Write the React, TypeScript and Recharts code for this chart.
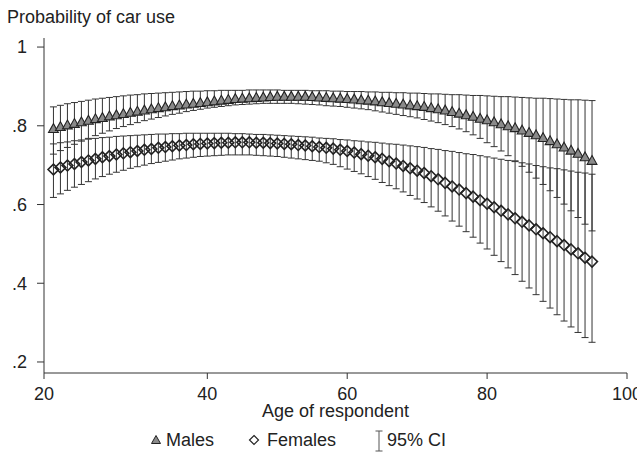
import { ScatterChart, Scatter, XAxis, YAxis, ErrorBar, Legend, Label } from 'recharts'

// age of respondent, one point per year
const ages = [
  18, 19, 20, 21, 22, 23, 24, 25, 26, 27, 28, 29, 30, 31, 32, 33, 34, 35, 36, 37,
  38, 39, 40, 41, 42, 43, 44, 45, 46, 47, 48, 49, 50, 51, 52, 53, 54, 55, 56, 57,
  58, 59, 60, 61, 62, 63, 64, 65, 66, 67, 68, 69, 70, 71, 72, 73, 74, 75, 76, 77,
  78, 79, 80, 81, 82, 83, 84, 85, 86, 87, 88, 89, 90, 91, 92, 93, 94, 95,
]

const maleProb = [
  0.793, 0.798, 0.802, 0.806, 0.81, 0.814, 0.818, 0.821, 0.825, 0.828,
  0.831, 0.834, 0.837, 0.84, 0.843, 0.846, 0.848, 0.851, 0.853, 0.855,
  0.857, 0.859, 0.861, 0.863, 0.865, 0.867, 0.869, 0.87, 0.871, 0.872,
  0.873, 0.874, 0.875, 0.875, 0.875, 0.875, 0.875, 0.874, 0.873, 0.872,
  0.871, 0.87, 0.869, 0.868, 0.866, 0.865, 0.863, 0.861, 0.859, 0.857,
  0.855, 0.853, 0.851, 0.849, 0.846, 0.843, 0.84, 0.836, 0.832, 0.828,
  0.824, 0.819, 0.815, 0.81, 0.805, 0.8, 0.795, 0.789, 0.783, 0.777,
  0.77, 0.762, 0.754, 0.746, 0.738, 0.73, 0.721, 0.712,
]
const maleLow = [
  0.728, 0.737, 0.745, 0.753, 0.761, 0.768, 0.775, 0.781, 0.787, 0.793,
  0.798, 0.803, 0.808, 0.813, 0.817, 0.821, 0.825, 0.829, 0.832, 0.836,
  0.839, 0.842, 0.845, 0.847, 0.849, 0.851, 0.853, 0.854, 0.855, 0.856,
  0.857, 0.857, 0.857, 0.857, 0.857, 0.856, 0.855, 0.854, 0.853, 0.851,
  0.85, 0.849, 0.847, 0.845, 0.843, 0.841, 0.838, 0.835, 0.832, 0.829,
  0.826, 0.823, 0.82, 0.816, 0.812, 0.808, 0.803, 0.798, 0.792, 0.785,
  0.777, 0.768, 0.757, 0.747, 0.736, 0.724, 0.711, 0.697, 0.682, 0.667,
  0.651, 0.635, 0.618, 0.601, 0.584, 0.567, 0.55, 0.533,
]
const maleHigh = [
  0.848, 0.852, 0.856, 0.859, 0.862, 0.865, 0.868, 0.87, 0.872, 0.874,
  0.876, 0.878, 0.879, 0.881, 0.882, 0.883, 0.884, 0.885, 0.886, 0.887,
  0.888, 0.888, 0.889, 0.889, 0.89, 0.89, 0.89, 0.89, 0.891, 0.891,
  0.891, 0.891, 0.891, 0.89, 0.89, 0.89, 0.89, 0.889, 0.889, 0.889,
  0.888, 0.888, 0.887, 0.887, 0.887, 0.886, 0.886, 0.885, 0.885, 0.884,
  0.884, 0.883, 0.883, 0.882, 0.881, 0.881, 0.88, 0.879, 0.879, 0.878,
  0.877, 0.877, 0.876, 0.875, 0.874, 0.874, 0.873, 0.872, 0.871, 0.87,
  0.87, 0.869, 0.868, 0.867, 0.866, 0.866, 0.865, 0.864,
]

const femaleProb = [
  0.689, 0.694, 0.699, 0.703, 0.708, 0.712, 0.716, 0.72, 0.723, 0.727,
  0.73, 0.733, 0.736, 0.739, 0.741, 0.744, 0.746, 0.748, 0.75, 0.751,
  0.753, 0.754, 0.755, 0.756, 0.757, 0.757, 0.758, 0.758, 0.758, 0.757,
  0.757, 0.756, 0.755, 0.754, 0.753, 0.751, 0.75, 0.748, 0.746, 0.744,
  0.742, 0.739, 0.736, 0.732, 0.728, 0.724, 0.72, 0.716, 0.71, 0.704,
  0.698, 0.692, 0.686, 0.68, 0.672, 0.664, 0.655, 0.646, 0.638, 0.629,
  0.62, 0.611, 0.602, 0.593, 0.584, 0.575, 0.565, 0.556, 0.547, 0.537,
  0.527, 0.517, 0.507, 0.497, 0.486, 0.476, 0.465, 0.455,
]
const femaleLow = [
  0.618, 0.627, 0.636, 0.644, 0.651, 0.658, 0.665, 0.671, 0.677, 0.682,
  0.687, 0.692, 0.696, 0.7, 0.704, 0.707, 0.71, 0.713, 0.716, 0.718,
  0.72, 0.722, 0.723, 0.724, 0.725, 0.726, 0.726, 0.726, 0.726, 0.725,
  0.724, 0.723, 0.722, 0.72, 0.718, 0.716, 0.714, 0.712, 0.71, 0.706,
  0.702, 0.696, 0.69, 0.684, 0.678, 0.671, 0.664, 0.656, 0.648, 0.64,
  0.632, 0.623, 0.614, 0.605, 0.594, 0.583, 0.571, 0.558, 0.545, 0.531,
  0.517, 0.502, 0.487, 0.471, 0.455, 0.439, 0.422, 0.405, 0.388, 0.371,
  0.354, 0.337, 0.32, 0.304, 0.289, 0.275, 0.262, 0.25,
]
const femaleHigh = [
  0.754, 0.757, 0.759, 0.762, 0.764, 0.766, 0.768, 0.77, 0.771, 0.773,
  0.774, 0.775, 0.776, 0.777, 0.778, 0.779, 0.779, 0.78, 0.78, 0.781,
  0.781, 0.781, 0.781, 0.781, 0.781, 0.781, 0.78, 0.78, 0.779, 0.778,
  0.778, 0.777, 0.776, 0.775, 0.774, 0.773, 0.772, 0.771, 0.769, 0.768,
  0.767, 0.765, 0.764, 0.762, 0.761, 0.759, 0.758, 0.756, 0.754, 0.753,
  0.751, 0.749, 0.747, 0.745, 0.742, 0.74, 0.737, 0.735, 0.732, 0.729,
  0.727, 0.724, 0.721, 0.718, 0.715, 0.712, 0.709, 0.706, 0.703, 0.699,
  0.696, 0.693, 0.691, 0.688, 0.685, 0.682, 0.68, 0.677,
]

// the first x tick sits at the axis origin in the original, labelled 20
const xTicks = [16.65, 40, 60, 80, 100]
const xTickLabels = ['20', '40', '60', '80', '100']
const yTicks = [0.2, 0.4, 0.6, 0.8, 1]
const yTickLabels = ['.2', '.4', '.6', '.8', '1']

const ink = '#222'
const font = '"Liberation Sans", Arial, Helvetica, sans-serif'

const males = ages.map((age, i) => ({
  age, p: maleProb[i], ci: [maleProb[i] - maleLow[i], maleHigh[i] - maleProb[i]],
}))
const females = ages.map((age, i) => ({
  age, p: femaleProb[i], ci: [femaleProb[i] - femaleLow[i], femaleHigh[i] - femaleProb[i]],
}))

const Triangle = (props: any) => {
  const { cx, cy } = props
  const s = 4.9
  return <polygon points={`${cx},${cy - s} ${cx + s},${cy + s * 0.8} ${cx - s},${cy + s * 0.8}`} fill="#8a8a8a" stroke={ink} strokeWidth={1.1} />
}
const Diamond = (props: any) => {
  const { cx, cy } = props
  const s = 5.4
  return <polygon points={`${cx},${cy - s} ${cx + s},${cy} ${cx},${cy + s} ${cx - s},${cy}`} fill="none" stroke={ink} strokeWidth={1.6} />
}

function LegendBox() {
  const txt = { position: 'absolute' as const, top: 13, fontSize: 18, lineHeight: '18px', color: ink }
  return (
    <div style={{ position: 'relative', width: 637, height: 43, fontFamily: font }}>
      <svg style={{ position: 'absolute', left: 150, top: 16 }} width={12} height={12}>
        <polygon points="6,1.5 10.5,9.5 1.5,9.5" fill="#8a8a8a" stroke={ink} strokeWidth={1} />
      </svg>
      <span style={{ ...txt, left: 166 }}>Males</span>
      <svg style={{ position: 'absolute', left: 248, top: 16 }} width={12} height={12}>
        <polygon points="6,1.5 10.5,6 6,10.5 1.5,6" fill="none" stroke={ink} strokeWidth={1.2} />
      </svg>
      <span style={{ ...txt, left: 267 }}>Females</span>
      <svg style={{ position: 'absolute', left: 374, top: 11 }} width={10} height={24}>
        <line x1={5} y1={2} x2={5} y2={22} stroke="#555" strokeWidth={1} />
        <line x1={1.5} y1={2} x2={8.5} y2={2} stroke="#555" strokeWidth={1} />
        <line x1={1.5} y1={22} x2={8.5} y2={22} stroke="#555" strokeWidth={1} />
      </svg>
      <span style={{ ...txt, left: 387 }}>95% CI</span>
    </div>
  )
}

export default function App() {
  return (
    <div style={{ position: 'absolute', left: 0, top: 0, width: 637, height: 461, background: '#fff', fontFamily: font }}>
      <div style={{ position: 'absolute', left: 7, top: 8, fontSize: 18, lineHeight: '18px', color: ink, whiteSpace: 'nowrap' }}>
        Probability of car use
      </div>
      <ScatterChart width={637} height={461} margin={{ top: 38, right: 10, bottom: 0, left: 0 }}>
        <XAxis
          type="number" dataKey="age" domain={[16.65, 100]} ticks={xTicks} interval={0}
          tickFormatter={(v: number) => xTickLabels[xTicks.indexOf(v)]}
          height={45} tickSize={6} tickMargin={8}
          tick={{ fontSize: 18, fill: ink }} stroke="#333" allowDataOverflow
        >
          <Label value="Age of respondent" position="insideBottom" offset={1} style={{ fontSize: 18, fill: ink }} />
        </XAxis>
        <YAxis
          type="number" dataKey="p" domain={[0.172, 1.023]} ticks={yTicks} interval={0}
          tickFormatter={(v: number) => yTickLabels[yTicks.indexOf(v)]}
          width={44} tickSize={7} tickMargin={10}
          tick={{ fontSize: 18, fill: ink }} stroke="#333" allowDataOverflow
        />
        <Legend verticalAlign="bottom" content={() => <LegendBox />} wrapperStyle={{ left: 0, width: 637, height: 43 }} />
        <Scatter name="Males" data={males} shape={Triangle} isAnimationActive={false}>
          <ErrorBar dataKey="ci" direction="y" width={3.5} stroke="#333" strokeWidth={1} />
        </Scatter>
        <Scatter name="Females" data={females} shape={Diamond} isAnimationActive={false}>
          <ErrorBar dataKey="ci" direction="y" width={3.5} stroke="#333" strokeWidth={1} />
        </Scatter>
      </ScatterChart>
    </div>
  )
}
